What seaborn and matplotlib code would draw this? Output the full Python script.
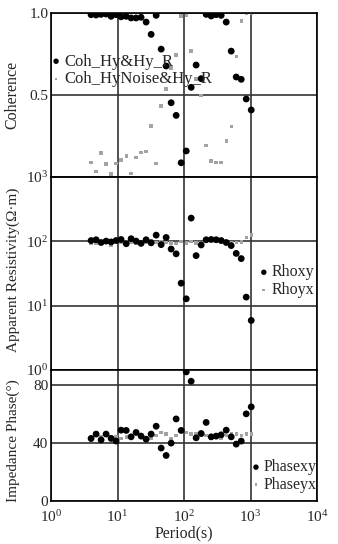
import numpy as np
import pandas as pd
import seaborn as sns
import matplotlib
matplotlib.use('Agg')
import matplotlib.pyplot as plt

# Periodos (s)
periodos = [4, 4.76, 5.66, 6.73, 8, 9.51, 11.3, 13.5, 16, 19, 22.6, 26.9, 32, 38.1,
            45.3, 53.8, 64, 76.1, 90.5, 108, 128, 152, 181, 215, 256, 304, 362, 431,
            512, 609, 724, 861, 1024]

# Coerencia
coh_hy = [0.99, 0.988, 0.992, 0.994, 0.98, 0.99, 0.977, 0.98, 0.97, 0.97, 0.974, 0.945,
          0.87, 0.986, 0.78, 0.677, 0.453, 0.376, 0.087, 0.159, 0.547, 0.683, 0.60,
          0.992, 0.982, 0.99, 0.986, 0.945, 0.768, 0.61, 0.596, 0.476, 0.409]
coh_noise = [0.087, 0.035, 0.146, 0.079, 0.018, 0.084, 0.104, 0.128, 0.02, 0.118, 0.151,
             0.154, 0.311, 0.081, 0.433, 0.537, 0.666, 0.744, 0.982, 0.988, 0.768, 0.598,
             0.496, 0.193, 0.098, 0.087, 0.087, 0.221, 0.307, 0.734, 0.951, 0.998, 0.998]

# Resistividade aparente (Ohm.m)
rhoxy = [103, 106, 96, 101, 98, 103, 107, 92, 110, 101, 93, 106, 95, 125, 89, 115, 76,
         64, 22.4, 12.8, 230, 60, 88, 106, 107, 106, 103, 96, 86, 65, 54, 13.6, 5.9]
rhoyx = [95, 92, 98, 104, 88, 100, 97, 99, 96, 95, 98, 97, 103, 96, 99, 97, 95, 93, 100,
         94, 99, 95, 96, 102, 103, 101, 99, 97, 95, 96, 98, 114, 125]

# Fase (graus)
phasexy = [43.0, 46.0, 42.0, 46.0, 43.0, 41.2, 48.7, 48.5, 44.1, 47.1, 44.6, 42.5, 46.0,
           51.4, 36.4, 31.3, 39.8, 56.4, 48.5, 88.7, 82.3, 43.4, 46.4, 54.0, 44.1, 44.6,
           45.5, 48.7, 44.1, 39.1, 41.2, 59.9, 64.7]
phaseyx = [42, 45, 44, 45, 44, 44, 43, 44, 45, 47, 45, 43, 43, 45, 47, 46, 43, 45, 48, 47,
           46, 46, 45, 45, 43, 45, 43, 45, 46, 46, 45, 46, 46]

sns.set_style('white')
plt.rcParams['font.family'] = ['Liberation Serif', 'DejaVu Serif']
plt.rcParams['mathtext.fontset'] = 'custom'
plt.rcParams['mathtext.rm'] = 'Liberation Serif'
plt.rcParams['mathtext.it'] = 'Liberation Serif:italic'

PRETO = 'black'
CINZA = '#a3a3a3'
GRADE = '#333333'

fig, axes = plt.subplots(3, 1, sharex=True, figsize=(3.38, 5.44), dpi=100,
                         gridspec_kw={'height_ratios': [164, 193, 131], 'hspace': 0})
fig.subplots_adjust(left=0.151, right=0.938, top=0.976, bottom=0.079)

df = pd.DataFrame({'T': periodos, 'coh1': coh_hy, 'coh2': coh_noise,
                   'rxy': rhoxy, 'ryx': rhoyx, 'pxy': phasexy, 'pyx': phaseyx})

series = [
    (axes[0], 'coh1', 'coh2', 'Coh_Hy&Hy_R', 'Coh_HyNoise&Hy_R'),
    (axes[1], 'rxy', 'ryx', 'Rhoxy', 'Rhoyx'),
    (axes[2], 'pxy', 'pyx', 'Phasexy', 'Phaseyx'),
]
for ax, c1, c2, l1, l2 in series:
    sns.scatterplot(data=df, x='T', y=c1, ax=ax, color=PRETO, marker='o', s=24,
                    edgecolor='none', label=l1, zorder=3)
    sns.scatterplot(data=df, x='T', y=c2, ax=ax, color=CINZA, marker='s', s=6,
                    edgecolor='none', label=l2, zorder=2)

ax0, ax1, ax2 = axes
ax0.set_xscale('log')
ax0.set_xlim(1, 1e4)
ax0.set_xticks([1, 10, 100, 1000, 10000])

ax0.set_ylim(0, 1)
ax0.set_yticks([0.5, 1.0])
ax0.set_yticklabels(['0.5', '1.0'])

ax1.set_yscale('log')
ax1.set_ylim(1, 1000)
ax1.set_yticks([1, 10, 100, 1000])

ax2.set_ylim(0, 90)
ax2.set_yticks([0, 40, 80])

for ax in axes:
    ax.minorticks_off()
    ax.grid(True, which='major', color=GRADE, linewidth=1.2)
    ax.set_axisbelow(True)
    for sp in ax.spines.values():
        sp.set_color(PRETO)
        sp.set_linewidth(1.2)
    ax.tick_params(axis='both', length=0, labelsize=11, pad=2)
    ax.set_xlabel('')
ax2.tick_params(axis='x', pad=6)

ax2.set_xlabel('Period(s)', fontsize=11.5, labelpad=0)
ax0.set_ylabel('Coherence', fontsize=11.5)
ax1.set_ylabel('Apparent Resistivity(Ω·m)', fontsize=11)
ax2.set_ylabel('Impedance Phase(°)', fontsize=11)
for ax in axes:
    ax.yaxis.set_label_coords(-0.115, 0.5)
ax1.yaxis.set_label_coords(-0.115, 0.52)
ax2.yaxis.set_label_coords(-0.115, 0.46)

leg_kw = dict(frameon=False, handletextpad=0.0, labelspacing=0.1, borderpad=0.1,
              handlelength=1.0, markerscale=0.8)
ax0.legend(loc='center left', bbox_to_anchor=(-0.05, 0.65), fontsize=12, **leg_kw)
ax1.legend(loc='center', bbox_to_anchor=(0.88, 0.46), fontsize=11.5, **leg_kw)
ax2.legend(loc='center', bbox_to_anchor=(0.87, 0.19), fontsize=11.5, **leg_kw)

plt.savefig('out.png', dpi=100)
